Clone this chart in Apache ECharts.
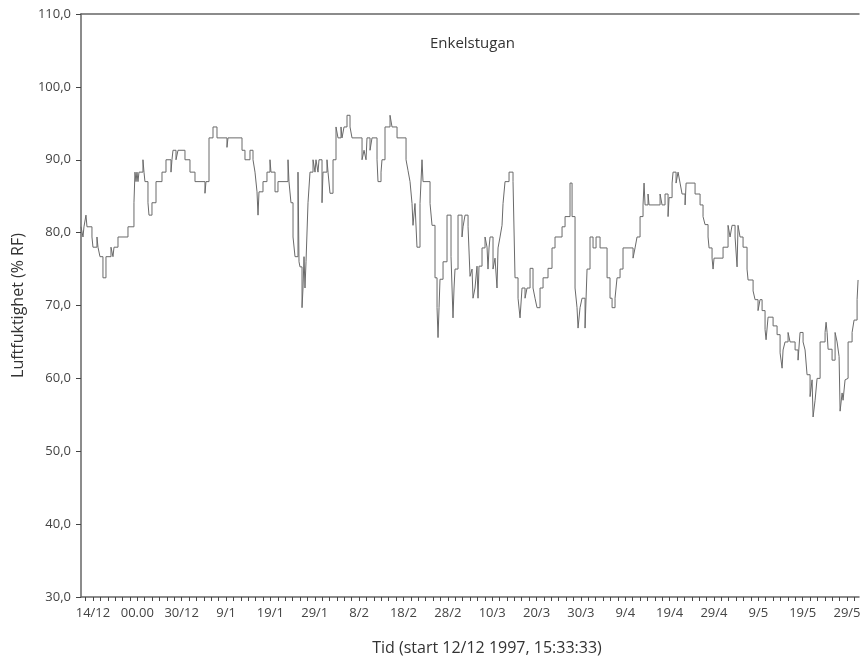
<!DOCTYPE html>
<html>
<head>
<meta charset="utf-8">
<script src="https://cdn.jsdelivr.net/npm/echarts@6/dist/echarts.min.js"></script>
<style>html,body{margin:0;padding:0;background:#fff}#chart{width:864px;height:657px}</style>
</head>
<body>
<div id="chart"></div>
<script>
// x positions in axis units (one label every 10 units), humidity in % RF
const xPos = [-2.7,-2.25,-2.03,-1.58,-1.35,-0.23,0,0.90,1.13,1.58,2.25,2.93,4.06,4.51,4.74,5.64,7.89,9.24,9.47,9.70,9.92,10.15,10.37,11.27,11.50,11.72,12.40,12.63,13.30,14.21,15.56,16.46,17.59,17.81,18.04,18.72,19.17,20.74,21.87,23.00,25.25,25.48,26.16,27.06,27.96,30.21,30.44,33.60,34.27,35.40,36.08,36.53,36.98,37.21,37.43,38.33,39.23,39.91,40.13,41.04,41.71,43.97,44.19,44.64,45.10,45.55,46.22,46.45,46.67,47.13,47.35,47.58,47.80,48.03,48.48,48.93,49.61,50.06,50.28,50.73,50.96,51.64,51.86,52.76,52.99,53.44,54.12,54.79,55.24,55.92,56.15,56.60,57.27,57.95,58.40,60.66,61.11,61.56,61.78,62.46,62.91,64.04,64.26,64.94,65.16,65.84,66.97,67.42,68.55,70.58,71.03,71.48,71.93,72.15,72.60,73.05,73.73,74.18,74.41,75.99,76.44,77.11,77.57,77.79,78.02,78.24,78.92,79.82,80.72,81.17,81.40,81.62,82.30,83.20,83.43,83.88,84.56,85.01,85.46,85.68,86.13,86.58,86.81,87.03,87.71,88.39,88.84,89.06,89.29,89.52,90.19,90.64,91.09,91.32,91.77,92.22,92.45,92.90,93.80,94.70,95.15,95.83,96.28,96.73,97.41,97.86,98.54,99.21,99.66,100.11,100.79,101.47,102.59,103.49,104.17,105.75,106.43,107.55,108.01,108.68,109.13,109.36,109.81,110.26,110.94,111.39,112.06,112.74,113.42,114.32,115.90,116.57,117.03,117.70,118.15,118.83,119.50,121.76,122.21,122.66,123.34,124.01,124.24,124.47,125.14,125.37,127.85,128.30,128.97,129.65,129.88,130.56,130.78,131.46,131.91,132.36,132.81,133.49,133.72,135.74,136.87,137.54,137.99,138.67,138.90,139.57,139.80,140.02,142.05,143.18,143.63,144.08,144.76,145.21,145.43,145.88,146.56,147.46,147.69,148.82,149.27,149.94,150.39,150.85,151.52,151.75,152.20,153.33,154.23,154.91,155.36,155.58,156.03,156.71,157.16,158.29,158.96,159.41,160.09,160.54,160.99,161.67,162.12,162.35,162.80,163.25,163.93,165.05,165.28,165.51,165.73,166.63,167.31,167.76,168.21,168.44,168.89,169.11,169.56,170.01,170.24,171.14,171.59,172.27,172.49];
const humidity = [80.8,79.4,80.8,82.4,80.8,79.4,78.0,79.4,78.0,76.7,73.8,76.7,78.0,76.7,78.0,79.4,80.8,84.1,88.3,87.0,88.3,87.0,88.3,90.0,88.3,87.0,84.1,82.4,84.1,87.0,88.3,90.0,88.3,90.0,91.3,90.0,91.3,90.0,88.3,87.0,85.4,87.0,93.0,94.5,93.0,91.7,93.0,91.3,90.0,91.3,90.0,88.3,85.6,82.4,85.6,87.0,88.3,90.0,88.3,85.6,87.0,90.0,87.0,84.1,79.4,76.7,88.3,76.0,75.3,69.7,72.4,76.7,72.4,76.0,84.1,88.3,90.0,88.3,90.0,88.3,90.0,84.1,88.3,90.0,88.3,85.4,90.0,94.5,93.0,94.5,93.0,94.5,96.1,94.5,93.0,90.0,91.3,90.0,93.0,91.3,93.0,90.0,87.0,88.3,90.0,94.5,96.1,94.5,93.0,90.0,88.5,87.0,84.0,81.0,84.0,78.0,84.0,90.0,87.0,84.0,81.0,73.8,69.7,65.6,69.7,73.6,76.0,82.4,76.7,68.3,72.4,75.0,82.4,79.4,80.8,82.4,80.8,74.0,75.0,71.0,72.4,75.4,71.0,75.4,77.9,79.4,78.0,75.0,77.9,79.4,75.0,76.5,72.4,77.9,79.4,81.0,84.0,87.0,88.3,87.0,73.8,71.0,68.3,72.4,71.0,72.4,75.1,72.4,71.0,69.7,72.4,73.8,75.1,77.9,79.4,80.8,82.2,86.8,82.2,72.4,69.7,66.9,69.7,71.0,66.9,75.0,79.4,77.9,79.4,77.9,73.8,71.0,69.7,71.0,73.8,75.0,77.9,76.5,77.9,79.4,82.2,83.8,86.8,83.8,85.3,83.8,85.3,83.8,85.3,82.2,84.8,86.8,88.3,86.8,88.3,86.8,85.3,83.8,86.8,85.3,83.8,82.2,81.1,79.4,77.9,76.5,75.0,76.5,78.0,81.0,79.4,81.0,79.4,75.3,81.0,79.4,78.0,75.0,73.5,72.0,70.8,69.3,70.8,69.3,66.7,65.3,68.4,67.2,66.0,63.5,61.4,63.9,65.0,66.3,65.0,63.9,62.5,66.3,65.0,63.9,60.5,57.5,59.8,54.7,57.0,60.0,65.0,66.3,67.7,66.3,64.0,62.5,66.3,65.0,63.0,55.5,58.0,57.0,59.8,60.0,65.0,66.3,68.0,70.8,73.5];
const xTickLabels = ["14/12","00.00","30/12","9/1","19/1","29/1","8/2","18/2","28/2","10/3","20/3","30/3","9/4","19/4","29/4","9/5","19/5","29/5"];
const yTicks = [30,40,50,60,70,80,90,100,110];
const title = "Enkelstugan";
const xName = "Tid (start 12/12 1997, 15:33:33)";
const yName = "Luftfuktighet (% RF)";

const labelValues = xTickLabels.map((_, i) => i * 10);
const tickValues = [];
for (let i = -1; i <= 103; i++) tickValues.push(i * 10 / 6);
const series = xPos.map((x, i) => [x, humidity[i]]);

const font = "'Open Sans', sans-serif";
const chart = echarts.init(document.getElementById('chart'));
chart.setOption({
  animation: false,
  backgroundColor: '#fff',
  title: { text: title, left: 425, top: 31, textStyle: { fontFamily: font, fontSize: 15, fontWeight: 'normal', color: '#333' } },
  grid: { left: 81, right: 5, top: 14, bottom: 60, containLabel: false, outerBoundsMode: 'none' },
  xAxis: [{
    type: 'value', min: -2.7, max: 172.7,
    name: xName, nameLocation: 'middle', nameGap: 43,
    nameTextStyle: { fontFamily: font, fontSize: 16, color: '#333', padding: [0, 0, 0, 34] },
    axisLine: { onZero: false, lineStyle: { color: '#666', width: 1.5 } },
    axisTick: { show: true, length: 4, inside: false, customValues: tickValues, lineStyle: { color: '#444', width: 1 } },
    axisLabel: { customValues: labelValues, margin: 10, fontFamily: font, fontSize: 13, color: '#444',
      formatter: v => xTickLabels[Math.round(v / 10)] },
    splitLine: { show: false }
  }, {
    type: 'value', position: 'top', min: -2.7, max: 172.7,
    axisLine: { show: true, onZero: false, lineStyle: { color: '#666', width: 1.5 } },
    axisTick: { show: false }, axisLabel: { show: false }, splitLine: { show: false }
  }],
  yAxis: {
    type: 'value', min: yTicks[0], max: yTicks[yTicks.length - 1], interval: 10,
    name: yName, nameLocation: 'middle', nameGap: 55,
    nameTextStyle: { fontFamily: font, fontSize: 16, color: '#333' },
    axisLine: { show: true, onZero: false, lineStyle: { color: '#666', width: 1.5 } },
    axisTick: { show: true, length: 5, lineStyle: { color: '#444' } },
    axisLabel: { margin: 10, fontFamily: font, fontSize: 13, color: '#444',
      formatter: v => v.toFixed(1).replace('.', ',') },
    splitLine: { show: false }
  },
  series: [{
    type: 'line', data: series, step: 'end', showSymbol: false, symbol: 'none',
    lineStyle: { color: '#6a6a6a', width: 1 }
  }]
});
</script>
</body>
</html>
